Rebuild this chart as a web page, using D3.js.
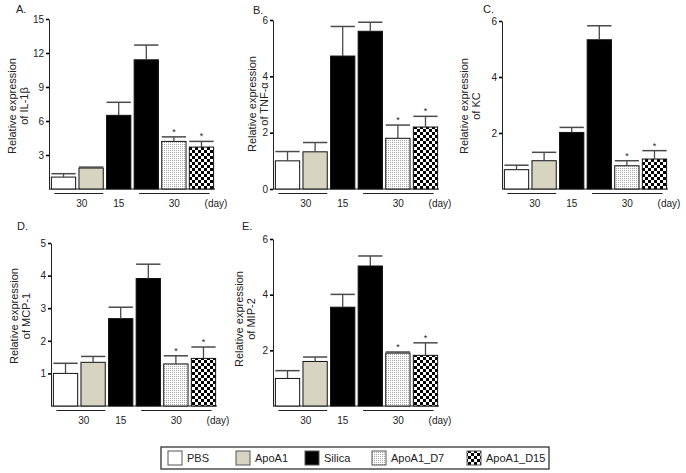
<!DOCTYPE html>
<html><head><meta charset="utf-8">
<script src="https://cdn.jsdelivr.net/npm/d3@7"></script>
<style>body{margin:0;background:#fff}svg{display:block;font-family:"Liberation Sans",Arial,sans-serif}</style>
</head><body><svg id="c" width="686" height="473"></svg>
<script>
const groups = ["PBS", "ApoA1", "Silica15", "Silica30", "ApoA1_D7", "ApoA1_D15"];
const legendLabels = ["PBS", "ApoA1", "Silica", "ApoA1_D7", "ApoA1_D15"];
const dayLabels = ["30", "15", "30", "(day)"];

const il1bMean = [1.05, 1.85, 6.5, 11.4, 4.2, 3.7];
const il1bErr  = [0.3, 0.08, 1.15, 1.3, 0.4, 0.5];
const tnfMean  = [1.0, 1.32, 4.72, 5.6, 1.8, 2.2];
const tnfErr   = [0.33, 0.33, 1.05, 0.32, 0.47, 0.38];
const kcMean   = [0.69, 1.01, 2.02, 5.33, 0.83, 1.07];
const kcErr    = [0.16, 0.3, 0.18, 0.5, 0.18, 0.3];
const mcpMean  = [1.0, 1.34, 2.68, 3.91, 1.29, 1.46];
const mcpErr   = [0.31, 0.18, 0.35, 0.44, 0.25, 0.35];
const mipMean  = [0.99, 1.6, 3.55, 5.03, 1.9, 1.82];
const mipErr   = [0.28, 0.16, 0.46, 0.36, 0.04, 0.45];
const starred  = [false, false, false, false, true, true];

const panels = [
  {letter:"A.", name:"of IL-1\u03b2", mean:il1bMean, err:il1bErr, max:15, ticks:[3,6,9,12,15], ax:49, y0:189, y1:19, lx:16, ly:13, t1x:12, t2x:24, ty:106},
  {letter:"B.", name:"of TNF-\u03b1", mean:tnfMean, err:tnfErr, max:6, ticks:[0,2,4,6], ax:273, y0:189, y1:20, lx:253, ly:14, t1x:252, t2x:264, ty:104},
  {letter:"C.", name:"of KC", mean:kcMean, err:kcErr, max:6, ticks:[2,4,6], ax:502, y0:189, y1:21, lx:483, ly:13, t1x:464, t2x:476, ty:106},
  {letter:"D.", name:"of MCP-1", mean:mcpMean, err:mcpErr, max:5, ticks:[1,2,3,4,5], ax:51, y0:406, y1:243, lx:17, ly:230, t1x:14, t2x:26, ty:316},
  {letter:"E.", name:"of MIP-2", mean:mipMean, err:mipErr, max:6, ticks:[2,4,6], ax:273, y0:406, y1:239, lx:242, ly:230, t1x:239, t2x:251, ty:319}
];

const svg = d3.select("#c");
const defs = svg.append("defs");
const dots = defs.append("pattern").attr("id","dots").attr("width",2).attr("height",2).attr("patternUnits","userSpaceOnUse");
dots.append("rect").attr("width",2).attr("height",2).attr("fill","#fff");
dots.append("rect").attr("width",1).attr("height",1).attr("fill","#a8a8a8");
const chk = defs.append("pattern").attr("id","chk").attr("width",6).attr("height",6).attr("patternUnits","userSpaceOnUse");
chk.append("rect").attr("width",6).attr("height",6).attr("fill","#fff");
chk.append("rect").attr("width",3).attr("height",3).attr("fill","#000");
chk.append("rect").attr("x",3).attr("y",3).attr("width",3).attr("height",3).attr("fill","#000");

const fills = {PBS:"#fff", ApoA1:"#d8d4c2", Silica15:"#000", Silica30:"#000", ApoA1_D7:"url(#dots)", ApoA1_D15:"url(#chk)", Silica:"#000"};

panels.forEach(p => {
  const g = svg.append("g");
  const x = d3.scaleBand().domain(groups).range([p.ax + 1, p.ax + 166]).paddingInner(0.12).paddingOuter(0.05);
  const y = d3.scaleLinear().domain([0, p.max]).range([p.y0, p.y1]);

  const yAxis = d3.axisLeft(y).tickValues(p.ticks).tickSize(3).tickSizeOuter(0).tickPadding(2).tickFormat(d3.format("d"));
  const ga = g.append("g").attr("transform", `translate(${p.ax},0)`).call(yAxis);
  ga.select(".domain").attr("stroke","#222").attr("stroke-width",1);
  ga.selectAll(".tick line").attr("stroke","#000").attr("stroke-width",1.6);
  ga.selectAll(".tick text").attr("font-size",10).attr("fill","#222").attr("font-family","Liberation Sans, Arial, sans-serif");

  g.append("line").attr("x1", p.ax).attr("x2", p.ax + 166).attr("y1", y(0)).attr("y2", y(0)).attr("stroke","#222").attr("stroke-width",1.2);

  g.selectAll("rect.bar").data(groups).join("rect").attr("class","bar")
    .attr("x", d => x(d)).attr("width", x.bandwidth())
    .attr("y", (d,i) => y(p.mean[i])).attr("height", (d,i) => y(0) - y(p.mean[i]))
    .attr("fill", d => fills[d]).attr("stroke", "#111").attr("stroke-width", 1);

  groups.forEach((d,i) => {
    const cx = x(d) + x.bandwidth()/2;
    const top = y(p.mean[i] + p.err[i]);
    g.append("line").attr("x1",cx).attr("x2",cx).attr("y1",y(p.mean[i])).attr("y2",top).attr("stroke","#4a4a4a").attr("stroke-width",1.3);
    g.append("line").attr("x1",x(d)).attr("x2",x(d)+x.bandwidth()).attr("y1",top).attr("y2",top).attr("stroke","#4a4a4a").attr("stroke-width",1.5);
    if (starred[i]) g.append("text").attr("x",cx).attr("y",top-2).attr("text-anchor","middle").attr("font-size",9).attr("fill","#222").text("*");
  });

  const ly = y(0) + 4.5;
  const l1a = x(groups[0]) + 3, l1b = x(groups[1]) + x.bandwidth();
  const l2a = x(groups[3]) + 5, l2b = x(groups[5]) + x.bandwidth() - 4;
  g.append("line").attr("x1",l1a).attr("x2",l1b).attr("y1",ly).attr("y2",ly).attr("stroke","#222").attr("stroke-width",1.1);
  g.append("line").attr("x1",l2a).attr("x2",l2b).attr("y1",ly).attr("y2",ly).attr("stroke","#222").attr("stroke-width",1.1);
  const lx = [(l1a + l1b)/2 + 3, x(groups[2]) + x.bandwidth()/2, (l2a + l2b)/2, p.ax + 167];
  g.selectAll("text.day").data(dayLabels).join("text").attr("class","day")
    .attr("x",(d,i)=>lx[i]).attr("y", y(0) + 18).attr("text-anchor","middle").attr("font-size",10).attr("fill","#222").text(d=>d);

  g.append("text").attr("x", p.lx).attr("y", p.ly).attr("font-size",11).attr("fill","#222").text(p.letter);
  g.append("text").attr("transform", `translate(${p.t1x + 4},${p.ty}) rotate(-90)`).attr("text-anchor","middle").attr("font-size",11).attr("fill","#222").text("Relative expression");
  g.append("text").attr("transform", `translate(${p.t2x + 4},${p.ty}) rotate(-90)`).attr("text-anchor","middle").attr("font-size",11).attr("fill","#222").text(p.name);
});

const lg = svg.append("g");
const legX = [168, 236, 305, 372, 467];
lg.append("rect").attr("x",161).attr("y",447).attr("width",388).attr("height",22).attr("fill","#fff").attr("stroke","#333").attr("stroke-width",1.3);
legendLabels.forEach((d,i) => {
  lg.append("rect").attr("x",legX[i]).attr("y",451).attr("width",14).attr("height",14).attr("fill",fills[d]).attr("stroke","#555").attr("stroke-width",1);
  lg.append("text").attr("x",legX[i]+19).attr("y",462).attr("font-size",11).attr("fill","#222").text(d);
});
</script></body></html>
